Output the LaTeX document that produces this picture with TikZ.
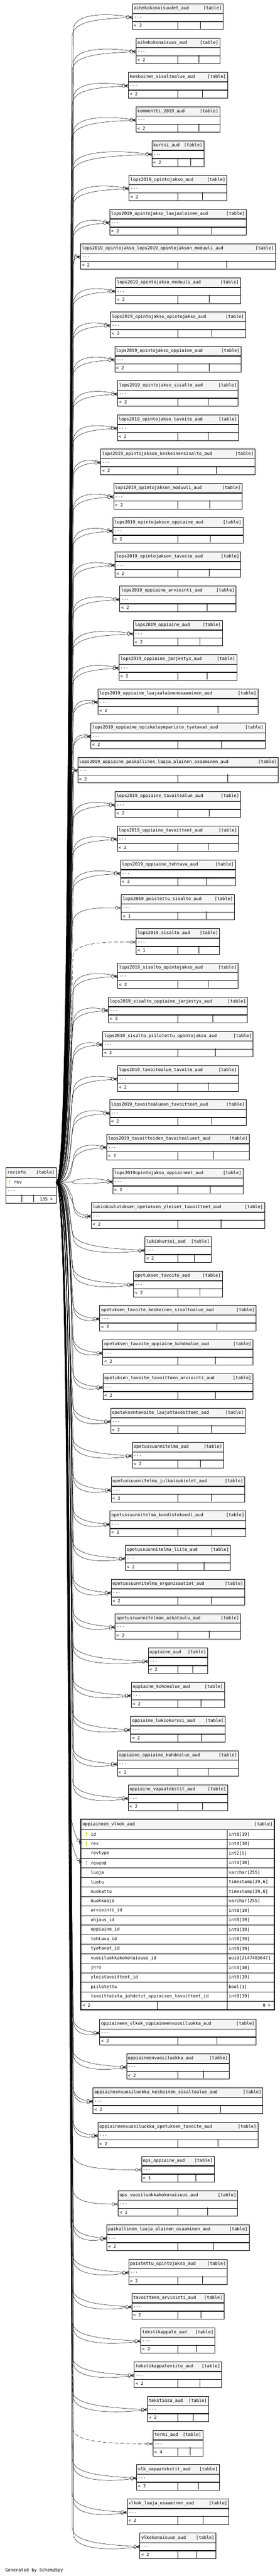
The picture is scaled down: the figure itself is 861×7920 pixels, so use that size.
\documentclass[tikz,border=0pt]{standalone}
\usepackage{fontspec}
\newfontfamily\schemafont{DejaVu Sans Mono}
\definecolor{hdrgray}{RGB}{244,244,244}
\definecolor{keyyellow}{RGB}{218,218,0}
\definecolor{keygray}{RGB}{185,185,185}
\pgfdeclarearrow{
    name=crowodot,
    setup code={
        \pgfarrowssettipend{0pt}
        \pgfarrowssetlineend{-16pt}
        \pgfarrowssetbackend{-18.5pt}
        \pgfarrowssetvisualbackend{-18.5pt}
    },
    drawing code={
        \pgfsetdash{}{0pt}
        \pgfpathmoveto{\pgfpoint{0pt}{4.3pt}}
        \pgfpathlineto{\pgfpoint{-10pt}{0pt}}
        \pgfpathlineto{\pgfpoint{0pt}{-4.3pt}}
        \pgfpathmoveto{\pgfpoint{-10pt}{0pt}}
        \pgfpathlineto{\pgfpoint{0pt}{0pt}}
        \pgfusepathqstroke
        \pgfsetfillcolor{white}
        \pgfpathcircle{\pgfpoint{-14.2pt}{0pt}}{4.2pt}
        \pgfusepathqfillstroke
    }
}
\begin{document}
\begin{tikzpicture}[x=1pt, y=-1pt, line width=0.8pt,
    font=\schemafont\fontsize{13.4}{15}\selectfont,
    hdr/.style={draw, fill=hdrgray, minimum height=29pt, inner xsep=4.5pt, inner ysep=0pt, anchor=north west},
    dotsrow/.style={draw, minimum height=24pt, inner xsep=4.5pt, inner ysep=0pt, anchor=north west},
    colrow/.style={draw, minimum height=29.3pt, inner xsep=4.5pt, inner ysep=0pt, anchor=north west},
    fk/.style={-crowodot},
    implied/.style={-crowodot, dash pattern=on 12pt off 6pt},
    dbkey/.pic={
        \draw[line width=1.3pt] (0,-4) circle (2.3);
        \draw[line width=1.7pt] (0,-1.7) -- (0,7);
        \draw[line width=1.3pt] (0,4) -- (2.2,4);
    }]
\fill[white] (0,0) rectangle (861,7920);
\useasboundingbox (0,0) rectangle (861,7920);

\node[hdr, minimum height=29.4pt] (revinfo) at (18,3589.6) {\makebox[145pt]{revinfo\hfill[table]}};
\node[dotsrow, minimum height=29.5pt] (rev) at (revinfo.south west) {\makebox[145pt][l]{\hspace{20pt}rev}};
\node[dotsrow] (revdots) at (rev.south west) {\makebox[145pt][l]{...}};
\node[dotsrow, minimum height=23.5pt] (revcount) at (revdots.south west) {\makebox[145pt][r]{135~>\hspace{5pt}}};
\draw (67,3672.5) -- (67,3696) (103,3672.5) -- (103,3696);
\pic[keyyellow] at (29.5,3634) {dbkey};

\foreach \idx/\tname/\bw/\nlab/\nedge/\estyle in {
    1/aihekokonaisuudet\_aud/279/2/2/fk,
    2/aihekokonaisuus\_aud/258/2/2/fk,
    3/keskeinen\_sisaltoalue\_aud/305/2/2/fk,
    4/kommentti\_2019\_aud/258/2/2/fk,
    5/kurssi\_aud/160/2/2/fk,
    6/lops2019\_opintojakso\_aud/301/2/2/fk,
    7/lops2019\_opintojakso\_laajaalainen\_aud/420/2/2/fk,
    8/lops2019\_opintojakso\_lops2019\_opintojakson\_moduuli\_aud/600/2/2/fk,
    9/lops2019\_opintojakso\_moduuli\_aud/384/2/2/fk,
    10/lops2019\_opintojakso\_opintojakso\_aud/416/2/2/fk,
    11/lops2019\_opintojakso\_oppiaine\_aud/389/2/2/fk,
    12/lops2019\_opintojakso\_sisalto\_aud/371/2/2/fk,
    13/lops2019\_opintojakso\_tavoite\_aud/373/2/2/fk,
    14/lops2019\_opintojakson\_keskeinensisalto\_aud/475/2/2/fk,
    15/lops2019\_opintojakson\_moduuli\_aud/395/2/2/fk,
    16/lops2019\_opintojakson\_oppiaine\_aud/400/2/2/fk,
    17/lops2019\_opintojakson\_tavoite\_aud/387/2/2/fk,
    18/lops2019\_oppiaine\_arviointi\_aud/358/2/2/fk,
    19/lops2019\_oppiaine\_aud/274/2/2/fk,
    20/lops2019\_oppiaine\_jarjestys\_aud/362/2/2/fk,
    21/lops2019\_oppiaine\_laajaalainenosaaminen\_aud/492/2/2/fk,
    22/lops2019\_oppiaine\_opiskeluymparisto\_tyotavat\_aud/536/2/2/fk,
    23/lops2019\_oppiaine\_paikallinen\_laaja\_alainen\_osaaminen\_aud/617/2/2/fk,
    24/lops2019\_oppiaine\_tavoitealue\_aud/386/2/2/fk,
    25/lops2019\_oppiaine\_tavoitteet\_aud/373/2/2/fk,
    26/lops2019\_oppiaine\_tehtava\_aud/353/2/2/fk,
    27/lops2019\_poistettu\_sisalto\_aud/348/1/1/fk,
    28/lops2019\_sisalto\_aud/257/1/1/implied,
    29/lops2019\_sisalto\_opintojakso\_aud/371/2/2/fk,
    30/lops2019\_sisalto\_oppiaine\_jarjestys\_aud/428/2/2/fk,
    31/lops2019\_sisalto\_piilotettu\_opintojakso\_aud/463/2/2/fk,
    32/lops2019\_tavoitealue\_tavoite\_aud/372/2/2/fk,
    33/lops2019\_tavoitealueen\_tavoitteet\_aud/420/2/2/fk,
    34/lops2019\_tavoitteiden\_tavoitealueet\_aud/438/2/2/fk,
    35/lops2019opintojakso\_oppiaineet\_aud/400/2/2/fk,
    36/lukiokoulutuksen\_opetuksen\_yleiset\_tavoitteet\_aud/533/2/2/fk,
    37/lukiokurssi\_aud/204/2/2/fk,
    38/opetuksen\_tavoite\_aud/273/2/2/fk,
    39/opetuksen\_tavoite\_keskeinen\_sisaltoalue\_aud/481/2/2/fk,
    40/opetuksen\_tavoite\_oppiaine\_kohdealue\_aud/462/2/2/fk,
    41/opetuksen\_tavoite\_tavoitteen\_arviointi\_aud/461/2/2/fk,
    42/opetuksentavoite\_laajattavoitteet\_aud/414/2/2/fk,
    43/opetussuunnitelma\_aud/281/2/2/fk,
    44/opetussuunnitelma\_julkaisukielet\_aud/411/2/2/fk,
    45/opetussuunnitelma\_koodistokoodi\_aud/418/2/2/fk,
    46/opetussuunnitelma\_liite\_aud/323/2/2/fk,
    47/opetussuunnitelma\_organisaatiot\_aud/411/2/2/fk,
    48/opetussuunnitelman\_aikataulu\_aud/386/2/2/fk,
    49/oppiaine\_aud/183/2/2/fk,
    50/oppiaine\_kohdealue\_aud/287/2/2/fk,
    51/oppiaine\_lukiokurssi\_aud/291/2/2/fk,
    52/oppiaine\_oppiaine\_kohdealue\_aud/373/2/2/fk,
    53/oppiaine\_vapaatekstit\_aud/306/2/2/fk,
    55/oppiaineen\_vlkok\_oppiaineenvuosiluokka\_aud/481/2/2/fk,
    56/oppiaineenvuosiluokka\_aud/316/2/2/fk,
    57/oppiaineenvuosiluokka\_keskeinen\_sisaltoalue\_aud/523/2/2/fk,
    58/oppiaineenvuosiluokka\_opetuksen\_tavoite\_aud/492/2/2/fk,
    59/ops\_oppiaine\_aud/224/1/1/fk,
    60/ops\_vuosiluokkakokonaisuus\_aud/368/1/1/fk,
    61/paikallinen\_laaja\_alainen\_osaaminen\_aud/438/2/2/fk,
    62/poistettu\_opintojakso\_aud/303/2/2/fk,
    63/tavoitteen\_arviointi\_aud/284/2/2/fk,
    64/tekstikappale\_aud/228/2/2/fk,
    65/tekstikappaleviite\_aud/269/2/2/fk,
    66/tekstiosa\_aud/188/2/2/fk,
    67/termi\_aud/153/4/1/implied,
    68/vlk\_vapaatekstit\_aud/254/2/2/fk,
    69/vlkok\_laaja\_osaaminen\_aud/313/2/2/fk,
    70/vlkokonaisuus\_aud/234/2/2/fk}
{
    \pgfmathsetmacro\ty{ifthenelse(\idx<55,11.4+(\idx-1)*105.3,6208+(\idx-55)*105.3)}
    \pgfmathsetmacro\tx{547-\bw/2}
    \pgfmathsetmacro\tw{\bw-9}
    \pgfmathsetmacro\vx{\tx+0.75*\bw}
    \node[hdr] (h\idx) at (\tx,\ty) {\makebox[\tw pt]{\tname\hfill[table]}};
    \node[dotsrow] (d\idx) at (h\idx.south west) {\makebox[\tw pt][l]{...}};
    \node[dotsrow] (b\idx) at (d\idx.south west) {\makebox[\tw pt][l]{<~\nlab}};
    \draw (b\idx.north) -- (b\idx.south) (\vx,\ty+53) -- (\vx,\ty+77);

    \pgfmathsetmacro\py{\ty+41}
    \pgfmathsetmacro\dr{ifthenelse(\py<3634,1,-1)}
    \pgfmathsetmacro\dist{abs(\py-3634)}
    \pgfmathsetmacro\fac{min(1,max(0.1,(\tx-226)/120))}
    \pgfmathsetmacro\yA{\py+\dr*min(38,0.4*\dist)}
    \pgfmathsetmacro\yB{\py+\dr*min(60,0.6*\dist)}
    \pgfmathsetmacro\yM{\py+\dr*min(48,0.5*\dist)}
    \pgfmathsetmacro\cA{\yA+\dr*0.45*abs(\yA-3634)}
    \pgfmathsetmacro\cB{\yB+\dr*0.45*abs(\yB-3634)}
    \pgfmathsetmacro\cM{\yM+\dr*0.45*abs(\yM-3634)}
    \pgfmathsetmacro\bx{205+mod(\idx,6)*2.5}
    \pgfmathsetmacro\xA{226+0.5*(\tx-226)}
    \pgfmathsetmacro\xB{222+0.45*(\tx-222)}
    \pgfmathsetmacro\xM{224+0.48*(\tx-224)}
    \pgfmathsetmacro\oA{\py-\dr*8*\fac}
    \pgfmathsetmacro\qA{\py-\dr*14*\fac}
    \pgfmathsetmacro\oB{\py+\dr*12}
    \pgfmathsetmacro\qB{\py+\dr*6*\fac}
    \pgfmathsetmacro\oM{\py+\dr*2}
    \ifnum\nedge=2
        \draw[\estyle] (rev.east) .. controls +(42,0) and (\bx,\cA) .. (226,\yA) .. controls (226,\oA) and (\xA,\qA) .. (d\idx.west);
        \draw[\estyle] (rev.east) .. controls +(42,0) and (\bx+2,\cB) .. (222,\yB) .. controls (222,\oB) and (\xB,\qB) .. (d\idx.west);
    \else
        \draw[\estyle] (rev.east) .. controls +(42,0) and (\bx,\cM) .. (224,\yM) .. controls (224,\oM) and (\xM,\py) .. (d\idx.west);
    \fi
}

\node[hdr, minimum height=32pt] (vlkok) at (249,5593) {\makebox[585pt]{oppiaineen\_vlkok\_aud\hfill[table]}};
\foreach \row/\colname/\coltype in {1/id/int8[19], 2/rev/int4[10], 3/revtype/int2[5], 4/revend/int4[10],
    5/luoja/varchar[255], 6/luotu/{timestamp[29,6]}, 7/muokattu/{timestamp[29,6]}, 8/muokkaaja/varchar[255],
    9/arviointi\_id/int8[19], 10/ohjaus\_id/int8[19], 11/oppiaine\_id/int8[19], 12/tehtava\_id/int8[19],
    13/tyotavat\_id/int8[19], 14/vuosiluokkakokonaisuus\_id/uuid[2147483647], 15/jnro/int4[10],
    16/yleistavoitteet\_id/int8[19], 17/piilotettu/bool[1], 18/tavoitteista\_johdetut\_oppimisen\_tavoitteet\_id/int8[19]}
{
    \pgfmathsetmacro\rowy{5625+(\row-1)*29.3}
    \node[colrow, minimum width=450pt] (bc\row) at (249,\rowy) {\makebox[441pt][l]{\hspace{25.5pt}\colname}};
    \node[colrow, minimum width=144pt] (bt\row) at (699,\rowy) {\makebox[135pt][l]{\coltype}};
}
\node[dotsrow, minimum height=26pt] (vlkokcount) at (249,6152.4) {\makebox[585pt]{<~2\hfill 0~>\hspace{6pt}}};
\draw (483,6152.4) -- (483,6178.4) (699,6152.4) -- (699,6178.4);
\draw[line width=3.5pt] (vlkok.north west) rectangle (vlkokcount.south east);
\pic[keyyellow] at (266,5639.7) {dbkey};
\pic[keyyellow] at (266,5669) {dbkey};
\pic[keygray] at (266,5727.6) {dbkey};
\draw[fk] (rev.east) .. controls +(42,0) and (208,5000) .. (215,5560) .. controls (220,5610) and (232,5645) .. (bc2.west);
\draw[fk] (rev.east) .. controls +(42,0) and (208,5100) .. (214,5620) .. controls (219,5670) and (232,5705) .. (bc4.west);

\node[anchor=west, inner sep=0pt] (credit) at (16,7902) {Generated by SchemaSpy};
\end{tikzpicture}
\end{document}
